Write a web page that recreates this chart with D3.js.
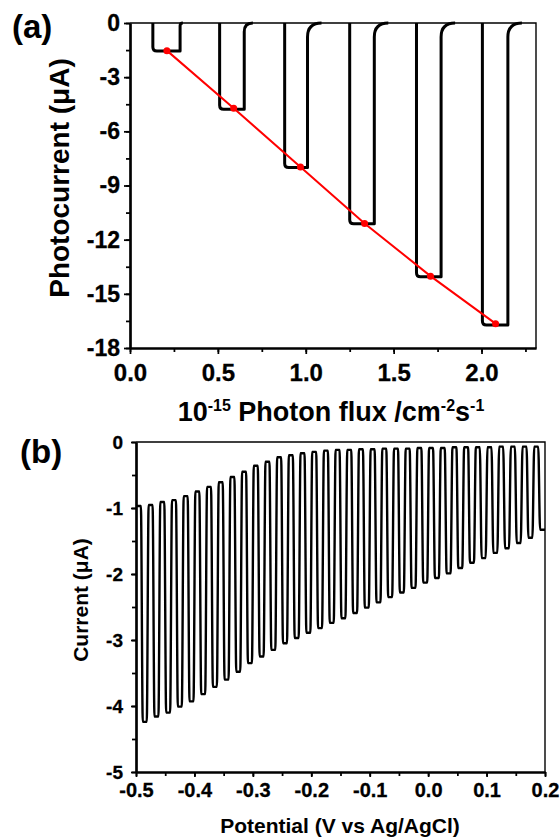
<!DOCTYPE html>
<html>
<head>
<meta charset="utf-8">
<script src="https://cdn.jsdelivr.net/npm/d3@7"></script>
<style>
  body { margin: 0; background: #fff; }
  text { font-family: "Liberation Sans", Arial, sans-serif; font-weight: bold; fill: #000; }
</style>
</head>
<body>
<svg id="chart"></svg>
<script>
//--------------------------------------------
// DATA
//--------------------------------------------
// (a) chopped photocurrent vs photon flux
const pulseOn    = [0.13, 0.51, 0.88, 1.25, 1.63, 2.005];
const pulseOff   = [0.285, 0.65, 1.01, 1.39, 1.77, 2.15];
const pulseLevel = [-1.55, -4.78, -8.0, -11.12, -14.05, -16.72];
const fitFlux    = [0.21, 0.59, 0.97, 1.335, 1.71, 2.08];
const fitCurrent = [-1.53, -4.72, -7.98, -11.1, -14.02, -16.65];
const yTicksA = [0, -3, -6, -9, -12, -15, -18];
const xTicksA = [0.0, 0.5, 1.0, 1.5, 2.0];

// (b) chopped LSV, one light cycle every 0.02 V
const cycleStart = -0.5, cycleStep = 0.02;
const darkCurrent = [-0.97, -0.955, -0.91, -0.88, -0.82, -0.75, -0.68, -0.61, -0.53, -0.45,
  -0.36, -0.30, -0.23, -0.20, -0.17, -0.15, -0.13, -0.12, -0.12, -0.11,
  -0.11, -0.10, -0.10, -0.10, -0.09, -0.09, -0.09, -0.08, -0.08, -0.08,
  -0.08, -0.07, -0.07, -0.07, -0.07];
const lightCurrent = [-4.24, -4.16, -4.10, -4.01, -3.93, -3.82, -3.71, -3.60, -3.48, -3.35,
  -3.25, -3.15, -3.05, -2.97, -2.89, -2.82, -2.74, -2.67, -2.59, -2.51,
  -2.43, -2.35, -2.28, -2.21, -2.13, -2.06, -1.99, -1.91, -1.83, -1.76,
  -1.68, -1.61, -1.53, -1.45, -1.33];
const yTicksB = [0, -1, -2, -3, -4, -5];
const xTicksB = [-0.5, -0.4, -0.3, -0.2, -0.1, 0.0, 0.1, 0.2];

//--------------------------------------------
// CONFIG
//--------------------------------------------
const width = 560, height = 840;
const svg = d3.select("#chart").attr("width", width).attr("height", height);

function frame(g, x, y) {
  const [x0, x1] = x.range(), [y1, y0] = y.range();
  // thin top / right border
  g.append("path")
    .attr("d", `M${x0},${y0}H${x1}V${y1}`)
    .attr("fill", "none").attr("stroke", "#000").attr("stroke-width", 1.4);
}

function styleAxis(ax, w, fs) {
  ax.select(".domain").attr("stroke-width", w);
  ax.selectAll(".tick line").attr("stroke-width", w * 0.8);
  ax.selectAll("text")
    .style("font-size", fs + "px")
    .style("font-weight", "bold")
    .style("font-family", '"Liberation Sans", Arial, sans-serif')
    .attr("stroke", "#000").attr("stroke-width", 0.3);
}

//--------------------------------------------
// PANEL (a)
//--------------------------------------------
const xA = d3.scaleLinear([0, 2.31], [130, 536]);
const yA = d3.scaleLinear([-18, 0], [348, 23]);
const gA = svg.append("g");

frame(gA, xA, yA);

gA.append("g").attr("transform", `translate(${xA.range()[0]},0)`)
  .call(d3.axisLeft(yA).tickValues(d3.range(0, -18.1, -1.5)).tickSize(4).tickSizeOuter(0).tickFormat(""))
  .call(a => styleAxis(a, 2.2, 23));
gA.append("g").attr("transform", `translate(0,${yA.range()[0]})`)
  .call(d3.axisBottom(xA).tickValues(d3.range(0, 2.31, 0.25)).tickSize(4).tickSizeOuter(0).tickFormat(""))
  .call(a => styleAxis(a, 2.2, 23));

gA.append("g").attr("transform", `translate(${xA.range()[0]},0)`)
  .call(d3.axisLeft(yA).tickValues(yTicksA).tickSize(6).tickSizeOuter(0).tickPadding(4)
    .tickFormat(d => String(d)))
  .call(a => styleAxis(a, 2.2, 23));
gA.append("g").attr("transform", `translate(0,${yA.range()[0]})`)
  .call(d3.axisBottom(xA).tickValues(xTicksA).tickSize(6).tickSizeOuter(0).tickPadding(10)
    .tickFormat(d => d.toFixed(1)))
  .call(a => styleAxis(a, 2.2, 24));

// photocurrent pulses
const pulses = pulseOn.map((on, i) => ({ on, off: pulseOff[i], level: pulseLevel[i] }));
gA.append("g")
  .selectAll("path")
  .data(pulses)
  .join("path")
    .attr("d", d => {
      const x0 = xA(d.on), x1 = xA(d.off), y0 = yA(0), yl = yA(d.level);
      const h = yl - y0, rb = Math.min(4, h * 0.2), rt = Math.min(14, h * 0.1);
      return `M${x0},${y0}L${x0},${yl - rb}Q${x0},${yl} ${x0 + rb},${yl}` +
             `L${x1},${yl}L${x1},${y0 + rt}Q${x1},${y0} ${x1 + rt},${y0}`;
    })
    .attr("fill", "none")
    .attr("stroke", "#000")
    .attr("stroke-width", 3)
    .attr("stroke-linejoin", "round");

// linear fit
const fit = fitFlux.map((f, i) => [f, fitCurrent[i]]);
gA.append("path")
  .datum(fit)
  .attr("d", d3.line().x(d => xA(d[0])).y(d => yA(d[1])))
  .attr("fill", "none").attr("stroke", "#ff0000").attr("stroke-width", 2);
gA.append("g").selectAll("circle")
  .data(fit).join("circle")
  .attr("cx", d => xA(d[0])).attr("cy", d => yA(d[1])).attr("r", 3.5)
  .attr("fill", "#ff0000");

gA.append("text").attr("x", 12).attr("y", 38).style("font-size", "33px").text("(a)");

gA.append("text")
  .attr("transform", "translate(69,178) rotate(-90)")
  .attr("text-anchor", "middle").style("font-size", "28px")
  .text("Photocurrent (\u03bcA)");

const tA = gA.append("text").attr("x", 331).attr("y", 421)
  .attr("text-anchor", "middle").style("font-size", "27px");
tA.append("tspan").text("10");
tA.append("tspan").attr("dy", -10).style("font-size", "16px").text("-15");
tA.append("tspan").attr("dy", 10).text(" Photon flux /cm");
tA.append("tspan").attr("dy", -10).style("font-size", "16px").text("-2");
tA.append("tspan").attr("dy", 10).text("s");
tA.append("tspan").attr("dy", -10).style("font-size", "16px").text("-1");

//--------------------------------------------
// PANEL (b)
//--------------------------------------------
const xB = d3.scaleLinear([-0.5, 0.2], [136, 545]);
const yB = d3.scaleLinear([-5, 0], [772, 442]);
const gB = svg.append("g");

frame(gB, xB, yB);

gB.append("g").attr("transform", `translate(${xB.range()[0]},0)`)
  .call(d3.axisLeft(yB).tickValues(d3.range(0, -5.1, -0.5)).tickSize(4).tickSizeOuter(0).tickFormat(""))
  .call(a => styleAxis(a, 2.2, 19));
gB.append("g").attr("transform", `translate(0,${yB.range()[0]})`)
  .call(d3.axisBottom(xB).tickValues(d3.range(-0.5, 0.201, 0.05)).tickSize(4).tickSizeOuter(0).tickFormat(""))
  .call(a => styleAxis(a, 2.2, 19));

gB.append("g").attr("transform", `translate(${xB.range()[0]},0)`)
  .call(d3.axisLeft(yB).tickValues(yTicksB).tickSize(5).tickSizeOuter(0).tickPadding(8)
    .tickFormat(d => String(d)))
  .call(a => styleAxis(a, 2.2, 19));
gB.append("g").attr("transform", `translate(0,${yB.range()[0]})`)
  .call(d3.axisBottom(xB).tickValues(xTicksB).tickSize(5).tickSizeOuter(0).tickPadding(6)
    .tickFormat(d => d.toFixed(1)))
  .call(a => styleAxis(a, 2.2, 20));

// square-wave current: dark half-cycle then light half-cycle
const half = cycleStep / 2, e = 0.0016;
const lsv = [];
darkCurrent.forEach((dark, k) => {
  const t = cycleStart + k * cycleStep;
  lsv.push([t + (k ? e : 0), dark], [t + half - e, dark]);
  const tEnd = Math.min(t + cycleStep, 0.2);
  lsv.push([t + half + e, lightCurrent[k]], [tEnd - (tEnd < 0.2 ? e : 0), lightCurrent[k]]);
});
gB.append("path")
  .datum(lsv)
  .attr("d", d3.line().x(d => xB(d[0])).y(d => yB(d[1])).curve(d3.curveMonotoneX))
  .attr("fill", "none").attr("stroke", "#000").attr("stroke-width", 2.4);

gB.append("text").attr("x", 20).attr("y", 463).style("font-size", "33px").text("(b)");

gB.append("text")
  .attr("transform", "translate(88,600) rotate(-90)")
  .attr("text-anchor", "middle").style("font-size", "21px")
  .text("Current (\u03bcA)");

gB.append("text").attr("x", 340).attr("y", 833)
  .attr("text-anchor", "middle").style("font-size", "21px")
  .text("Potential (V vs Ag/AgCl)");
</script>
</body>
</html>
